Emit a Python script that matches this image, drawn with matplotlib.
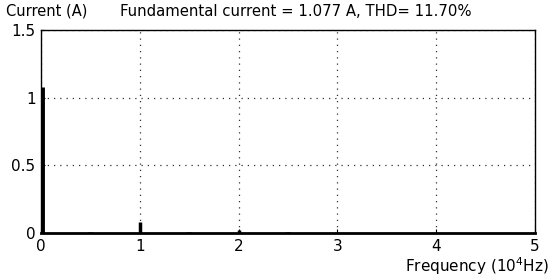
import matplotlib
matplotlib.use("Agg")
import matplotlib.pyplot as plt

freq = [0.006, 0.49, 0.51, 1.0, 1.49, 1.51, 2.0, 2.49, 2.51]
amp = [1.077, 0.008, 0.008, 0.08, 0.006, 0.006, 0.025, 0.006, 0.006]
xticks = [0, 1, 2, 3, 4, 5]
yticks = [0, 0.5, 1, 1.5]
yticklabels = ["0", "0.5", "1", "1.5"]

fig = plt.figure(figsize=(5.51, 2.78), dpi=100)
ax = fig.add_axes([41/551, 1-233/278, (535-41)/551, (233-30)/278])
ax.vlines(freq[:1], 0, amp[:1], colors="black", linewidth=3.5)
ax.vlines(freq[1:], 0, amp[1:], colors="black", linewidth=2.5)
ax.set_xlim(0, 5)
ax.set_ylim(0, 1.5)
ax.set_xticks(xticks)
ax.set_xticklabels([str(t) for t in xticks])
ax.set_yticks(yticks)
ax.set_yticklabels(yticklabels)
ax.grid(True, linestyle=(0, (1, 4)), color="#333333", linewidth=0.9)
ax.tick_params(direction="in", labelsize=11, length=3, pad=4)
for s in ax.spines.values():
    s.set_linewidth(1.0)
ax.spines["bottom"].set_linewidth(2)
fig.text(6/551, 1-11/278, "Current (A)", fontsize=10.5, va="center", ha="left")
fig.text(120/551, 1-11/278, "Fundamental current = 1.077 A, THD= 11.70%", fontsize=10.7, va="center", ha="left")
fig.text(549/551, 1-266/278, "Frequency (10$^4$Hz)", fontsize=11, va="center", ha="right")
fig.savefig("out.png", dpi=100)
